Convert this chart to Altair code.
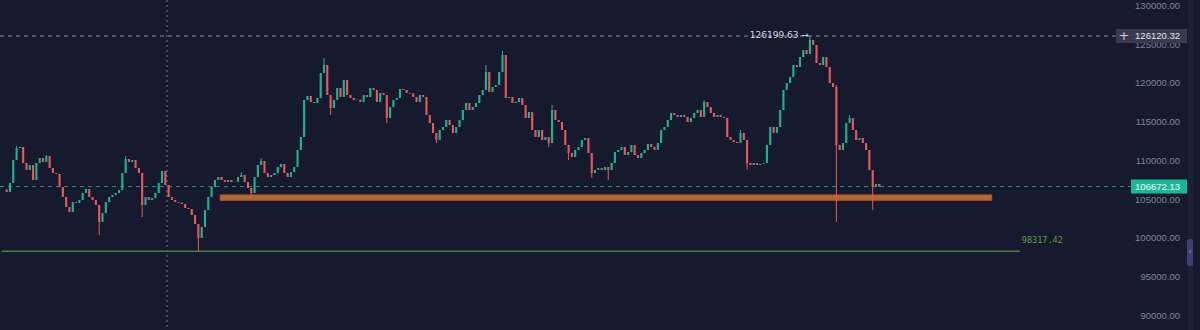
import math
import altair as alt
import pandas as pd

# ---------------- data ----------------
closes = [
    105980, 107140, 110110, 111660, 111790, 109720, 108820, 109460, 107520, 109720,
    110360, 109850, 110620, 109080, 108430, 108300, 106620, 105330, 104040, 103390,
    104680, 104550, 104940, 105850, 106360, 105330, 104940, 104300, 102100, 103260,
    104680, 105330, 105590, 105850, 106230, 108430, 110240, 109850, 110110, 109080,
    108430, 104300, 105330, 104940, 105200, 105850, 107140, 108690, 106880, 105330,
    104940, 104680, 104600, 104420, 103910, 103780, 103000, 101840, 100030, 101450,
    103650, 105330, 106620, 107520, 107910, 107520, 107270, 107520, 107270, 107300,
    107910, 108170, 107270, 106490, 105850, 107910, 109460, 109980, 108430, 107910,
    108170, 108430, 109200, 109590, 108430, 107910, 108560, 109200, 111400, 113080,
    117860, 118380, 117600, 117470, 118120, 121350, 122380, 118500, 116830, 117860,
    119410, 118250, 120440, 118500, 118120, 117860, 117900, 117600, 118500, 118250,
    119410, 119150, 117600, 118760, 118500, 115530, 116950, 117860, 118120, 119280,
    119150, 118760, 118700, 118250, 117600, 118500, 118250, 115920, 114890, 113600,
    112690, 113980, 114370, 115270, 114630, 113600, 114370, 115270, 116570, 117470,
    116570, 116950, 117470, 118500, 119150, 121470, 118890, 119540, 119800, 121470,
    123670, 118120, 118250, 117470, 117600, 118120, 117210, 115530, 116310, 113980,
    113080, 113980, 112690, 113080, 112300, 116570, 115270, 115020, 113980, 112050,
    111010, 110500, 111400, 111790, 112690, 112950, 111010, 108430, 108820, 109080,
    108820, 109200, 108820, 109720, 111140, 111400, 111790, 110750, 111140, 112050,
    110750, 110360, 111010, 111400, 112180, 111790, 111400, 112300, 113980, 114370,
    115270, 116180, 115920, 115660, 115920, 115660, 115020, 115530, 116180, 116570,
    115660, 117600, 116950, 116180, 115660, 115920, 115660, 115530, 113080, 112690,
    112430, 112300, 113600, 112690, 109720, 109460, 109720, 109460, 109590, 109720,
    112050, 114370, 113600, 114370, 116570, 119150, 120050, 120830, 122380, 122120,
    123410, 124320, 123800, 125610, 124960, 122640, 122380, 123410, 122120, 120050,
    119540, 112050, 111400, 112300, 114890, 115530, 113980, 112690, 112950, 112300,
    111400, 108820, 106620, 107010, 106672.13,
]
first_open = 106300

marked_highs = {3: 111920, 12: 110750, 36: 110620, 71: 108560, 77: 110360,
                96: 123280, 145: 122380, 150: 124220, 165: 117210, 211: 117860,
                222: 113980, 243: 126199.63, 251: 119800, 255: 115920}
marked_lows = {28: 100420, 41: 102750, 58: 98317.42, 74: 105200, 98: 115920,
               115: 114890, 130: 112300, 164: 111790, 170: 110110, 177: 107780,
               182: 107520, 224: 108820, 251: 102100, 262: 103650}

y_ticks = [130000, 125000, 120000, 115000, 110000, 105000, 100000, 95000, 90000]
last_price = 106672.13
hover_price = 126120.32
peak_price = 126199.63
peak_index = 243
low_level = 98317.42
zone_low, zone_high = 104900, 105600
zone_start, zone_end = 64.6, 298.0
low_line_end = 306.5

# ---------------- layout / style ----------------
W, H = 1200, 330
Y_TOP, Y_BOT = 130775, 88149
X_MIN, X_MAX = -0.5, 359.5
BG = "#161a2e"
UP = "#1fb28f"
DOWN = "#e8585e"
PX = (Y_TOP - Y_BOT) / H  # price per pixel

opens = [first_open] + closes[:-1]
rows = []
for i, (o, c) in enumerate(zip(opens, closes)):
    rows.append({
        "i": i, "open": o, "close": c,
        "high": max(o, c, marked_highs.get(i, -math.inf)),
        "low": min(o, c, marked_lows.get(i, math.inf)),
    })
df = pd.DataFrame(rows)

xs = alt.Scale(domain=[X_MIN, X_MAX], nice=False, zero=False)
ys = alt.Scale(domain=[Y_BOT, Y_TOP], nice=False, zero=False)


def X(f):
    return alt.X(f, type="quantitative", scale=xs, axis=None)


def Y(f):
    return alt.Y(f, type="quantitative", scale=ys, axis=None)


def Y2(f):
    return alt.Y2(f)


color = alt.condition("datum.close >= datum.open", alt.value(UP), alt.value(DOWN))

base = alt.Chart(df)
wicks = base.mark_rule(strokeWidth=1).encode(x=X("i"), y=Y("low"), y2=Y2("high"), color=color)
bodies = base.mark_bar(width=2.1).encode(x=X("i"), y=Y("open"), y2=Y2("close"), color=color)

# zone
zone_df = pd.DataFrame([{"x1": zone_start, "x2": zone_end, "lo": zone_low, "hi": zone_high}])
zone = alt.Chart(zone_df).mark_rect(fill="#a96d2e", stroke="#c4473c", strokeWidth=1).encode(
    x=X("x1"), x2=alt.X2("x2"), y=Y("lo"), y2=Y2("hi"))

# low level line
low_df = pd.DataFrame([{"x1": X_MIN - 1, "x2": low_line_end, "p": low_level,
                        "label": f"{low_level:.2f}"}])
low_line = alt.Chart(low_df).mark_rule(color="#4a7a4d", strokeWidth=1.5).encode(
    x=X("x1"), x2=alt.X2("x2"), y=Y("p"))
low_text = alt.Chart(low_df).mark_text(align="left", baseline="middle", dx=2, dy=-11,
                                       font="DejaVu Sans Mono", fontSize=8.5, color="#5f9e3e").encode(
    x=X("x2"), y=Y("p"), text="label:N")

# dashed price lines
lines_df = pd.DataFrame([{"p": hover_price}])
hover_line = alt.Chart(lines_df).mark_rule(color="#8a8d99", strokeWidth=1, strokeDash=[4, 4]).encode(
    x=alt.value(0), x2=alt.value(1116), y=Y("p"))
last_df = pd.DataFrame([{"p": last_price}])
last_line = alt.Chart(last_df).mark_rule(color=UP, strokeWidth=1, strokeDash=[4, 4], opacity=0.8).encode(
    x=alt.value(0), x2=alt.value(1131), y=Y("p"))

# crosshair vertical
cross = alt.Chart(lines_df).mark_rule(color="#6f7383", strokeWidth=1, strokeDash=[2, 3]).encode(
    x=alt.value(167), y=alt.value(0), y2=alt.value(H))

# right-side price labels
ticks_df = pd.DataFrame({"p": y_ticks, "label": [f"{v:.2f}" for v in y_ticks]})
tick_text = alt.Chart(ticks_df).mark_text(align="right", baseline="middle", font="Liberation Sans",
                                          fontSize=9.5, color="#7f8498").encode(
    x=alt.value(1180), y=Y("p"), text="label:N")

box_half = 7 * PX
hover_box_df = pd.DataFrame([{"p": hover_price, "lo": hover_price - box_half,
                              "hi": hover_price + box_half, "label": f"{hover_price:.2f}"}])
hover_box = alt.Chart(hover_box_df).mark_rect(color="#373b4e").encode(
    x=alt.value(1116), x2=alt.value(1187), y=Y("lo"), y2=Y2("hi"))
hover_txt = alt.Chart(hover_box_df).mark_text(align="right", baseline="middle", font="Liberation Sans",
                                              fontSize=9.5, color="#e6e8ef").encode(
    x=alt.value(1180), y=Y("p"), text="label:N")
plus_txt = alt.Chart(hover_box_df).mark_text(align="center", baseline="middle", font="DejaVu Sans",
                                             fontSize=13, color="#c9ccd6").encode(
    x=alt.value(1124), y=Y("p"), text=alt.value("+"))

last_box_df = pd.DataFrame([{"p": last_price, "lo": last_price - box_half,
                             "hi": last_price + box_half, "label": f"{last_price:.2f}"}])
last_box = alt.Chart(last_box_df).mark_rect(color="#19b993").encode(
    x=alt.value(1131), x2=alt.value(1187), y=Y("lo"), y2=Y2("hi"))
last_txt = alt.Chart(last_box_df).mark_text(align="right", baseline="middle", font="Liberation Sans",
                                            fontSize=9.5, color="#ffffff").encode(
    x=alt.value(1180), y=Y("p"), text="label:N")

# peak annotation
peak_df = pd.DataFrame([{"i": peak_index, "p": peak_price, "label": f"{peak_price:.2f} \u2192"}])
peak_txt = alt.Chart(peak_df).mark_text(align="right", baseline="middle", dx=-1, font="DejaVu Sans",
                                        fontSize=9, color="#d6d9e2").encode(
    x=X("i"), y=Y("p"), text="label:N")

# right edge strip and handle
strip = alt.Chart(lines_df).mark_rect(color="#1c2036").encode(
    x=alt.value(1188), x2=alt.value(1193), y=alt.value(0), y2=alt.value(H))
handle = alt.Chart(lines_df).mark_rect(color="#3b4070", cornerRadius=2).encode(
    x=alt.value(1187), x2=alt.value(1193), y=alt.value(239), y2=alt.value(266))
handle_txt = alt.Chart(lines_df).mark_text(fontSize=8, color="#9aa0c8", baseline="middle").encode(
    x=alt.value(1190), y=alt.value(252), text=alt.value("\u2039"))

chart = alt.layer(
    cross, hover_line, last_line, low_line, zone, wicks, bodies, low_text, peak_txt,
    tick_text, hover_box, hover_txt, plus_txt, last_box, last_txt, strip, handle, handle_txt,
).properties(
    width=W, height=H, background=BG, padding=0,
    autosize=alt.AutoSizeParams(type="none"),
).configure_view(stroke=None, fill=BG)

chart.save("out.html", embed_options={"renderer": "svg", "actions": False})
